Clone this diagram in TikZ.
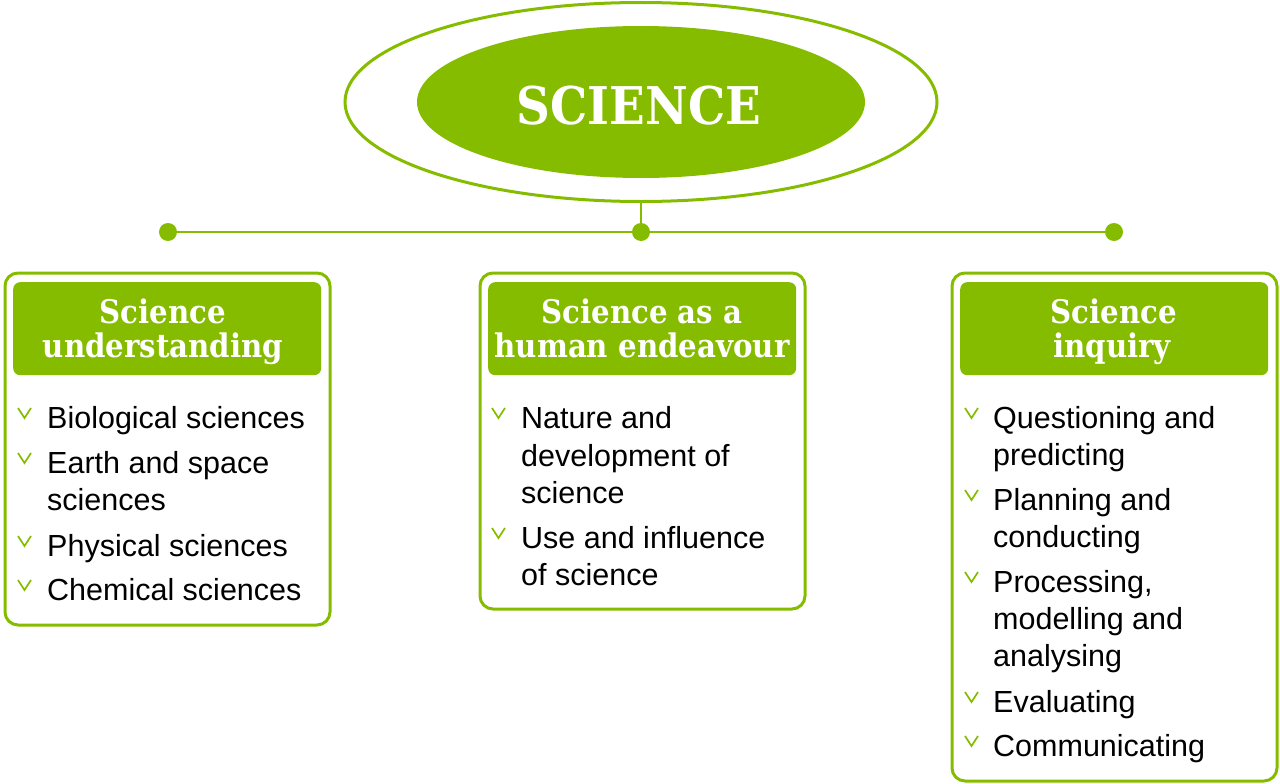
\documentclass[tikz,border=0pt]{standalone}
\usepackage{fontspec}
\setmainfont{Liberation Sans}
\newfontfamily\slabfont[FakeStretch=0.9]{DejaVu Serif}
\usetikzlibrary{shapes.geometric}
\definecolor{sgreen}{HTML}{86BC00}
\tikzset{
 panel/.style={draw=sgreen, line width=3pt, rounded corners=13pt, fill=white, anchor=north west, inner sep=0pt, minimum width=325pt},
 headbox/.style={fill=sgreen, rounded corners=7pt, anchor=north west, inner sep=0pt, minimum width=308pt, minimum height=93pt},
 headtxt/.style={text=white, font=\slabfont\bfseries\fontsize{32.5}{34}\selectfont, anchor=base, inner sep=0pt},
 bodytxt/.style={text=black, font=\fontsize{30.5}{37}\selectfont, anchor=base west, inner sep=0pt},
 chev/.style={draw=sgreen, line width=1.7pt},
 dot/.style={circle, fill=sgreen, minimum size=18pt, inner sep=0pt},
 conn/.style={draw=sgreen, line width=2.8pt},
}
\newcommand\bline[4]{\node[bodytxt] (#1) at (#2,#3) {#4};}
\newcommand\chevat[2]{\draw[chev] (#1,#2-20) -- (#1+6.5,#2-10) -- (#1+13,#2-20);}
\begin{document}
\begin{tikzpicture}[x=1pt,y=-1pt]
\useasboundingbox (0,0) rectangle (1280,784);
% title
\node[ellipse, draw=sgreen, line width=3pt, minimum width=592pt, minimum height=199pt, inner sep=0pt] (ell) at (641,102) {};
\node[ellipse, fill=sgreen, minimum width=448pt, minimum height=152pt, inner sep=0pt] (core) at (641,102) {};
\node[text=white, font=\slabfont\bfseries\fontsize{52}{60}\selectfont, anchor=base, inner sep=0pt] (title) at (639,124) {SCIENCE};
% connectors
\node[dot] (d1) at (168,232) {};
\node[dot] (d2) at (641,232) {};
\node[dot] (d3) at (1114,232) {};
\draw[conn] (d1) -- (d3);
\draw[conn] (ell.south) -- (d2);
% panels
\node[panel, minimum height=352pt] (p1) at (3.5,271.5) {};
\node[panel, minimum height=336pt] (p2) at (478.5,271.5) {};
\node[panel, minimum height=508pt] (p3) at (950.5,271.5) {};
\node[headbox] (h1) at (13,282) {};
\node[headbox] (h2) at (488,282) {};
\node[headbox] (h3) at (960,282) {};
\node[headtxt] (h1a) at (163,323) {Science};
\node[headtxt] (h1b) at (163,357) {understanding};
\node[headtxt] (h2a) at (642,323) {Science as a};
\node[headtxt] (h2b) at (642,357) {human endeavour};
\node[headtxt] (h3a) at (1114,323) {Science};
\node[headtxt] (h3b) at (1112,357) {inquiry};
% left items
\chevat{18}{428}\bline{l1}{47}{428}{Biological sciences}
\chevat{18}{473}\bline{l2}{47}{473}{Earth and space}
\bline{l3}{47}{510}{sciences}
\chevat{18}{556}\bline{l4}{47}{556}{Physical sciences}
\chevat{18}{600}\bline{l5}{47}{600}{Chemical sciences}
% middle items
\chevat{492}{428}\bline{m1}{521}{428}{Nature and}
\bline{m2}{521}{466}{development of}
\bline{m3}{521}{503}{science}
\chevat{492}{548}\bline{m4}{521}{548}{Use and influence}
\bline{m5}{521}{585}{of science}
% right items
\chevat{965}{428}\bline{r1}{993}{428}{Questioning and}
\bline{r2}{993}{465}{predicting}
\chevat{965}{510}\bline{r3}{993}{510}{Planning and}
\bline{r4}{993}{547}{conducting}
\chevat{965}{592}\bline{r5}{993}{592}{Processing,}
\bline{r6}{993}{629}{modelling and}
\bline{r7}{993}{666}{analysing}
\chevat{965}{712}\bline{r8}{993}{712}{Evaluating}
\chevat{965}{756}\bline{r9}{993}{756}{Communicating}
\end{tikzpicture}
\end{document}
